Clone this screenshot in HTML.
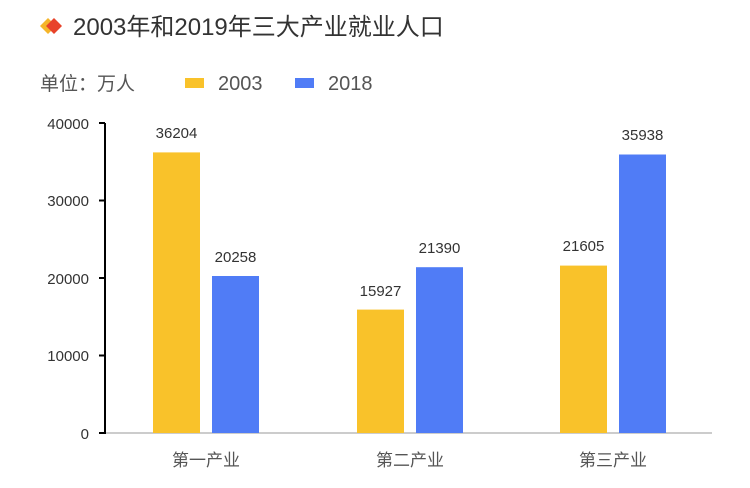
<!DOCTYPE html>
<html><head><meta charset="utf-8"><style>body{margin:0;background:#fff}</style></head><body>
<svg width="750" height="483" xmlns="http://www.w3.org/2000/svg" font-family="Liberation Sans, Noto Sans CJK SC, sans-serif">
<rect width="750" height="483" fill="#fff"/>
<polygon points="40,26 48,18 56,26 48,34" fill="#f5b52a"/>
<polygon points="46,26 54,18 62,26 54,34" fill="#e8432a"/>
<text x="73" y="35" font-size="24" fill="#333">2003年和2019年三大产业就业人口</text>
<text x="40" y="90" font-size="19" fill="#555">单位：万人</text>
<rect x="185" y="78" width="19" height="10" fill="#f9c22a"/>
<text x="218" y="90" font-size="20" fill="#555">2003</text>
<rect x="295" y="78" width="19" height="10" fill="#507cf6"/>
<text x="328" y="90" font-size="20" fill="#555">2018</text>
<line x1="105" y1="433" x2="712" y2="433" stroke="#ccc" stroke-width="2"/>
<line x1="105" y1="123" x2="105" y2="434" stroke="#000" stroke-width="2"/>
<g stroke="#000" stroke-width="2">
<line x1="99" y1="123" x2="105" y2="123"/><line x1="99" y1="200.5" x2="105" y2="200.5"/><line x1="99" y1="278" x2="105" y2="278"/><line x1="99" y1="355.5" x2="105" y2="355.5"/><line x1="99" y1="433" x2="105" y2="433"/>
</g>
<g font-size="15" fill="#333" text-anchor="end">
<text x="89" y="129">40000</text><text x="89" y="206">30000</text><text x="89" y="284">20000</text><text x="89" y="361">10000</text><text x="89" y="439">0</text>
</g>
<g fill="#f9c22a"><rect x="153" y="152.4" width="47" height="280.6"/><rect x="357" y="309.6" width="47" height="123.4"/><rect x="560" y="265.6" width="47" height="167.4"/></g>
<g fill="#507cf6"><rect x="212" y="276" width="47" height="157"/><rect x="416" y="267.2" width="47" height="165.8"/><rect x="619" y="154.5" width="47" height="278.5"/></g>
<g font-size="15" fill="#333" text-anchor="middle">
<text x="176.5" y="138">36204</text><text x="235.5" y="262">20258</text>
<text x="380.5" y="296">15927</text><text x="439.5" y="253">21390</text>
<text x="583.5" y="251">21605</text><text x="642.5" y="140">35938</text>
</g>
<g font-size="17" fill="#555" text-anchor="middle">
<text x="206" y="466">第一产业</text><text x="410" y="466">第二产业</text><text x="613" y="466">第三产业</text>
</g>
</svg>
</body></html>
